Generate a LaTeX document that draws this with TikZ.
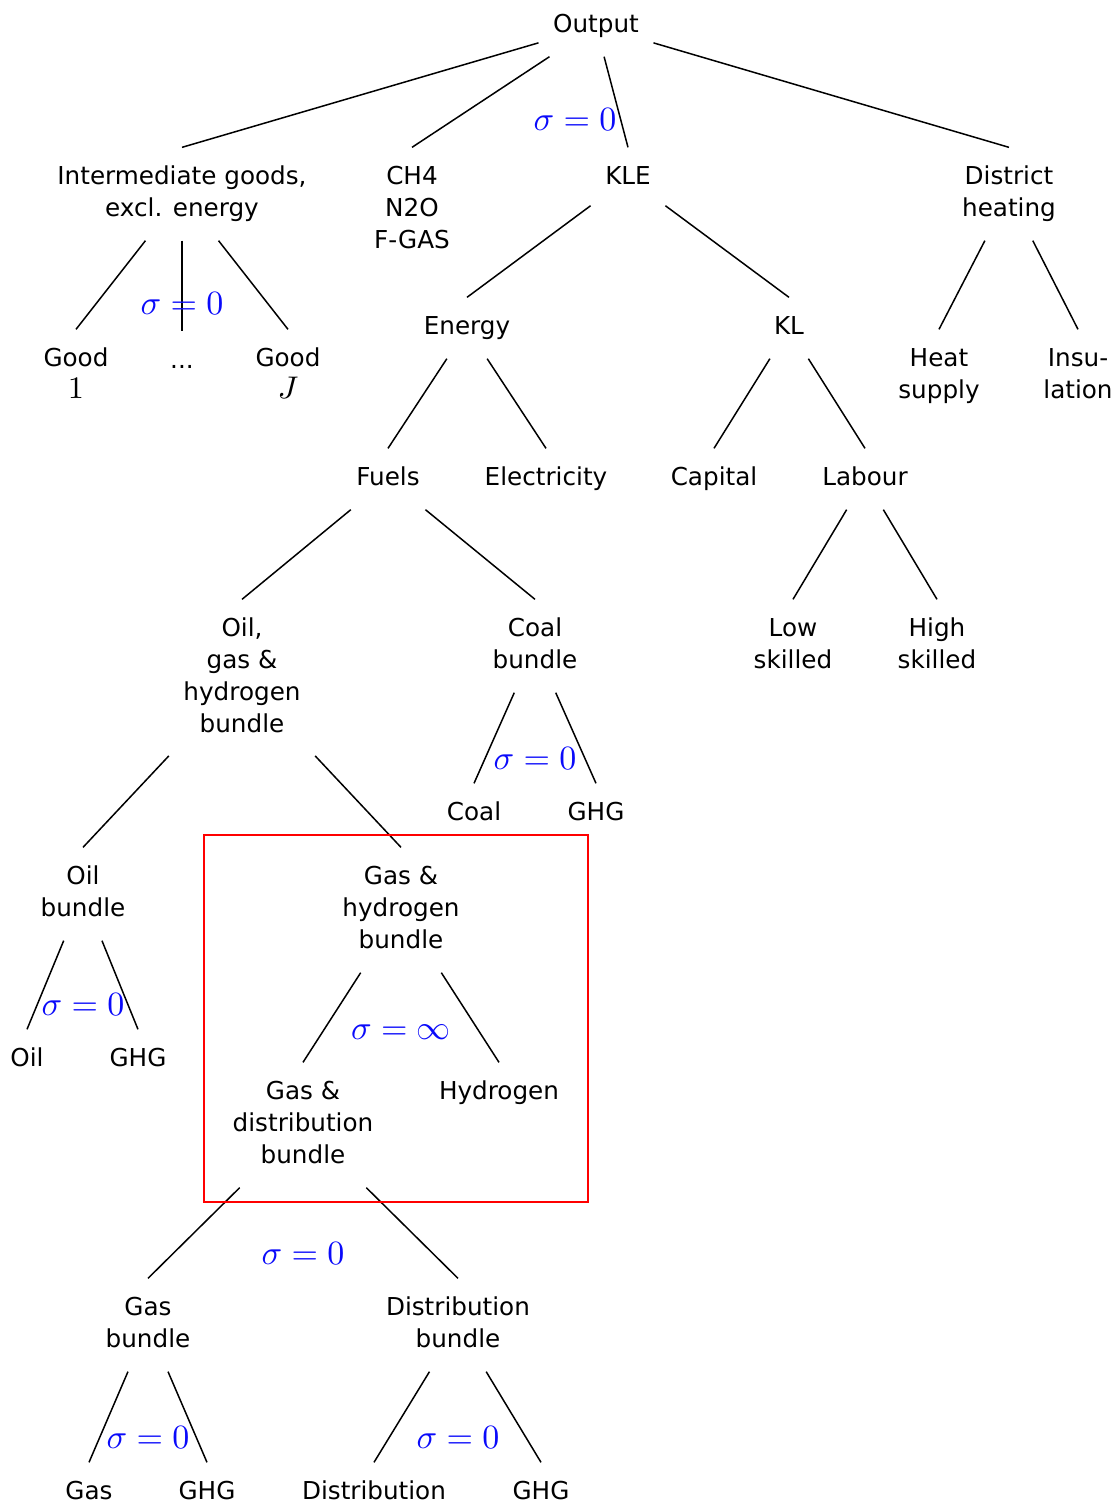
\RequirePackage{fix-cm}
\documentclass[tikz,border=0pt]{standalone}
\usepackage[no-math]{fontspec}
\setmainfont{DejaVu Sans}
\definecolor{sigblue}{RGB}{10,10,250}
\newcommand\txtsz{\fontsize{7.4}{9.6}\selectfont}
\newcommand\sigsz{\fontsize{10.2}{12}\selectfont}
\newcommand\idx[1]{{\fontsize{9.4}{9.6}\selectfont$#1$}}
\tikzset{
  lbl/.style={inner sep=4.2pt, align=center, font=\txtsz},
  sig/.style={text=sigblue, inner sep=0pt, font=\sigsz},
  link/.style={draw=black, line width=0.45pt},
  focus/.style={draw=red, line width=0.6pt}
}
\begin{document}
\begin{tikzpicture}[x=0.3pt, y=-0.3pt]
\useasboundingbox (0,0) rectangle (1120,1506);

% level 0 and 1
\node[lbl] (out)   at (596,26)  {\strut Output};
\node[lbl] (inter) at (182,194) {\strut Intermediate goods,\\\strut excl. energy};
\node[lbl] (ghgx)  at (412,210) {\strut CH4\\\strut N2O\\\strut F-GAS};
\node[lbl] (kle)   at (628,178) {\strut KLE};
\node[lbl] (dh)    at (1009,194) {\strut District\\\strut heating};

% intermediate goods
\node[lbl] (g1)    at (76,376)  {\strut Good\\\strut \idx{1}};
\node[lbl] (gdots) at (182,362) {\strut ...};
\node[lbl] (gJ)    at (288,376) {\strut Good\\\strut \idx{J}};

% KLE branch
\node[lbl] (energy) at (467,328) {\strut Energy};
\node[lbl] (kl)     at (789,328) {\strut KL};
\node[lbl] (fuels)  at (388,479) {\strut Fuels};
\node[lbl] (elec)   at (546,479) {\strut Electricity};
\node[lbl] (cap)    at (714,479) {\strut Capital};
\node[lbl] (lab)    at (865,479) {\strut Labour};
\node[lbl] (low)    at (793,646) {\strut Low\\\strut skilled};
\node[lbl] (high)   at (937,646) {\strut High\\\strut skilled};

% district heating
\node[lbl] (heat) at (939,376)  {\strut Heat\\\strut supply};
\node[lbl] (insu) at (1078,376) {\strut Insu-\\\strut lation};

% fuels
\node[lbl] (ogh)   at (242,678) {\strut Oil,\\\strut gas \&\\\strut hydrogen\\\strut bundle};
\node[lbl] (coalb) at (535,646) {\strut Coal\\\strut bundle};
\node[lbl] (coal)  at (474,814) {\strut Coal};
\node[lbl] (ghgc)  at (596,814) {\strut GHG};
\node[lbl] (oilb)  at (83,894)  {\strut Oil\\\strut bundle};
\node[lbl] (oil)   at (27,1060) {\strut Oil};
\node[lbl] (ghgo)  at (138,1060) {\strut GHG};
\node[lbl] (gash)  at (401,910) {\strut Gas \&\\\strut hydrogen\\\strut bundle};
\node[lbl] (gasd)  at (303,1125) {\strut Gas \&\\\strut distribution\\\strut bundle};
\node[lbl] (hydro) at (499,1093) {\strut Hydrogen};
\node[lbl] (gasb)  at (148,1325) {\strut Gas\\\strut bundle};
\node[lbl] (distb) at (458,1325) {\strut Distribution\\\strut bundle};
\node[lbl] (gas)   at (89,1493)  {\strut Gas};
\node[lbl] (ghgg)  at (207,1493) {\strut GHG};
\node[lbl] (dist)  at (374,1493) {\strut Distribution};
\node[lbl] (ghgd)  at (541,1493) {\strut GHG};

% connectors
\foreach \p/\c in {out/inter, out/ghgx, out/kle, out/dh,
                   inter/g1, inter/gdots, inter/gJ,
                   kle/energy, kle/kl, dh/heat, dh/insu,
                   energy/fuels, energy/elec, kl/cap, kl/lab,
                   lab/low, lab/high, fuels/ogh, fuels/coalb,
                   coalb/coal, coalb/ghgc, ogh/oilb, ogh/gash,
                   oilb/oil, oilb/ghgo, gash/gasd, gash/hydro,
                   gasd/gasb, gasd/distb, gasb/gas, gasb/ghgg,
                   distb/dist, distb/ghgd}
  \draw[link] (\p) -- (\c.north);

% substitution elasticities
\node[sig] (s1) at (575,120)  {$\sigma=0$};
\node[sig] (s2) at (182,304)  {$\sigma=0$};
\node[sig] (s3) at (535,759)  {$\sigma=0$};
\node[sig] (s4) at (83,1005)  {$\sigma=0$};
\node[sig] (s5) at (401,1032) {$\sigma=\infty$};
\node[sig] (s6) at (303,1254) {$\sigma=0$};
\node[sig] (s7) at (148,1438) {$\sigma=0$};
\node[sig] (s8) at (458,1438) {$\sigma=0$};

% highlighted gas and hydrogen nest
\draw[focus] (204,835) rectangle (588,1202);
\end{tikzpicture}
\end{document}
